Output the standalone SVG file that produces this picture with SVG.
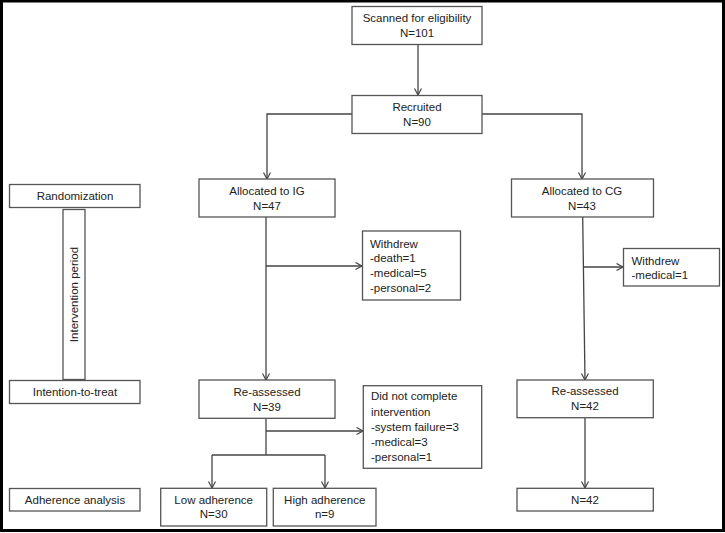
<svg xmlns="http://www.w3.org/2000/svg" width="725" height="533" viewBox="0 0 725 533">
<defs>
<style>
.b{fill:#fff;stroke:#555;stroke-width:1.3}
.t{font-family:"Liberation Sans",Arial,sans-serif;font-size:11.5px;fill:#222}
.c{text-anchor:middle}
.ln{fill:none;stroke:#444;stroke-width:1.3}
</style>
<marker id="ah" markerWidth="10" markerHeight="10" refX="7" refY="4" orient="auto" markerUnits="userSpaceOnUse">
<path d="M0.5,0.5 L7,4 L0.5,7.5" fill="none" stroke="#444" stroke-width="1.2"/>
</marker>
</defs>
<rect x="1.5" y="1" width="722" height="529.5" fill="#fff" stroke="#000" stroke-width="3"/>
<g id="connectors">
<path class="ln" d="M418,44 V95" marker-end="url(#ah)"/>
<path class="ln" d="M352,114 H267 V179" marker-end="url(#ah)"/>
<path class="ln" d="M482,114 H582 V179" marker-end="url(#ah)"/>
<path class="ln" d="M266,217 V380" marker-end="url(#ah)"/>
<path class="ln" d="M266,266 H362" marker-end="url(#ah)"/>
<path class="ln" d="M582.7,217 L585,380" marker-end="url(#ah)"/>
<path class="ln" d="M583.5,267 H623" marker-end="url(#ah)"/>
<path class="ln" d="M266,418 V455"/>
<path class="ln" d="M266,431 H363" marker-end="url(#ah)"/>
<path class="ln" d="M212,455 H325"/>
<path class="ln" d="M212,455 V488" marker-end="url(#ah)"/>
<path class="ln" d="M325,455 V488" marker-end="url(#ah)"/>
<path class="ln" d="M585,418 V488" marker-end="url(#ah)"/>
</g>
<g id="scanned">
<rect class="b" x="352" y="6.5" width="130" height="38"/>
<text class="t c" x="417" y="22.3">Scanned for eligibility</text>
<text class="t c" x="417" y="37.3">N=101</text>
</g>
<g id="recruited">
<rect class="b" x="352" y="95.5" width="130" height="38"/>
<text class="t c" x="417" y="111.3">Recruited</text>
<text class="t c" x="417" y="126">N=90</text>
</g>
<g id="randomization">
<rect class="b" x="9.5" y="184.5" width="130.5" height="23"/>
<text class="t c" x="75" y="199.5">Randomization</text>
</g>
<g id="intervention-period">
<rect class="b" x="63" y="209.5" width="22" height="170"/>
<text class="t c" transform="translate(78,294.5) rotate(-90)">Intervention period</text>
</g>
<g id="intention-to-treat">
<rect class="b" x="9.5" y="380.5" width="130.5" height="23"/>
<text class="t c" x="75" y="395.7">Intention-to-treat</text>
</g>
<g id="adherence-analysis">
<rect class="b" x="9.5" y="488.5" width="130.5" height="22.5"/>
<text class="t c" x="75" y="504">Adherence analysis</text>
</g>
<g id="allocated-ig">
<rect class="b" x="199" y="179" width="136" height="38"/>
<text class="t c" x="267" y="194.8">Allocated to IG</text>
<text class="t c" x="267" y="209.5">N=47</text>
</g>
<g id="withdrew-ig">
<rect class="b" x="362.5" y="231" width="98" height="69"/>
<text class="t" x="370" y="247.5">Withdrew</text>
<text class="t" x="370" y="262">-death=1</text>
<text class="t" x="370" y="277">-medical=5</text>
<text class="t" x="370" y="292">-personal=2</text>
</g>
<g id="allocated-cg">
<rect class="b" x="511.5" y="179" width="142" height="38"/>
<text class="t c" x="582" y="194.7">Allocated to CG</text>
<text class="t c" x="582" y="209.7">N=43</text>
</g>
<g id="withdrew-cg">
<rect class="b" x="623.5" y="248.5" width="96" height="37.5"/>
<text class="t" x="631.5" y="264.5">Withdrew</text>
<text class="t" x="631.5" y="279">-medical=1</text>
</g>
<g id="reassessed-ig">
<rect class="b" x="199" y="380" width="136" height="38.3"/>
<text class="t c" x="267" y="395.5">Re-assessed</text>
<text class="t c" x="267" y="410.5">N=39</text>
</g>
<g id="did-not-complete">
<rect class="b" x="363.3" y="385.7" width="118.4" height="82.6"/>
<text class="t" x="371" y="400">Did not complete</text>
<text class="t" x="371" y="415.5">intervention</text>
<text class="t" x="371" y="431">-system failure=3</text>
<text class="t" x="371" y="446">-medical=3</text>
<text class="t" x="371" y="461.3">-personal=1</text>
</g>
<g id="reassessed-cg">
<rect class="b" x="517" y="380" width="136.3" height="37.7"/>
<text class="t c" x="585" y="395">Re-assessed</text>
<text class="t c" x="585" y="410">N=42</text>
</g>
<g id="low-adherence">
<rect class="b" x="160.7" y="488.3" width="106" height="37.7"/>
<text class="t c" x="213.7" y="504">Low adherence</text>
<text class="t c" x="213.7" y="518.3">N=30</text>
</g>
<g id="high-adherence">
<rect class="b" x="273.3" y="488.3" width="102.7" height="37.7"/>
<text class="t c" x="324.7" y="504">High adherence</text>
<text class="t c" x="324.7" y="518.3">n=9</text>
</g>
<g id="final-cg">
<rect class="b" x="517" y="488.3" width="136.3" height="22.7"/>
<text class="t c" x="585" y="503.5">N=42</text>
</g>
</svg>
